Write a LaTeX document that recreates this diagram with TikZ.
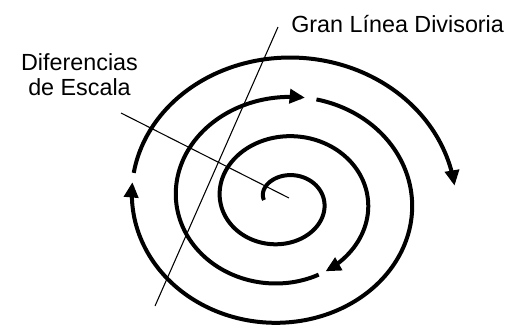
\documentclass[tikz,border=0pt]{standalone}
\usepackage{fontspec}
\setmainfont{Liberation Sans}
\usetikzlibrary{arrows.meta}
\begin{document}
\begin{tikzpicture}[x=0.75pt,y=-0.75pt,
  spiral/.style={line width=3pt, line cap=butt, -{Triangle[length=11.5pt,width=10.5pt]}},
  thinline/.style={line width=0.8pt},
  lbl/.style={font=\fontsize{17.5pt}{18.75pt}\selectfont, inner sep=0pt}]
\useasboundingbox (0,0) rectangle (508,326);
% labels
\node[lbl, anchor=base west] (gran) at (291,32) {Gran Línea Divisoria};
\node[lbl, anchor=base] (dif1) at (79.5,70) {Diferencias};
\node[lbl, anchor=base] (dif2) at (79.5,95) {de Escala};
% thin lines
\coordinate (divtop) at (278,27);
\coordinate (divbot) at (155,306);
\coordinate (esctop) at (121,113);
\coordinate (esccen) at (289,198);
\draw[thinline] (divtop) -- (divbot);
\draw[thinline] (esctop) -- (esccen);
% spiral
\draw[spiral] plot[variable=\t, domain=-1:2.35, samples=220]
  ({283+(41+22*\t)*cos(180*\t)}, {200+(34+19.7*\t)*sin(180*\t)});
\draw[spiral] plot[variable=\t, domain=2.375:3.56, samples=120]
  ({283+(41+22*\t)*cos(180*\t)}, {200+(34+19.7*\t)*sin(180*\t)});
\draw[spiral] plot[variable=\t, domain=3.59:5.045, samples=150]
  ({283+(41+22*\t)*cos(180*\t)}, {200+(34+19.7*\t)*sin(180*\t)});
\draw[spiral] plot[variable=\t, domain=5.065:5.97, samples=100]
  ({283+(41+22*\t)*cos(180*\t)}, {200+(34+19.7*\t)*sin(180*\t)});
\end{tikzpicture}
\end{document}
